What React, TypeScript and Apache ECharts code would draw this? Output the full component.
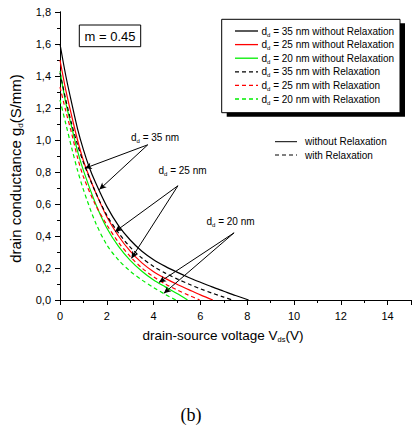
import React, { useEffect, useRef } from 'react';
import * as echarts from 'echarts';

// drain-source voltage (V) and drain conductance (S/mm)
const vBlackSolid = [0, 0.25, 0.5, 0.75, 1.0, 1.25, 1.5, 2.0, 2.5, 3.0, 3.5, 4.0, 4.5, 5.0, 5.5, 6.0, 6.5, 7.0, 7.5, 8.06];
const gBlackSolid = [1.6, 1.4, 1.23, 1.07, 0.94, 0.83, 0.74, 0.585, 0.465, 0.375, 0.305, 0.252, 0.21, 0.174, 0.141, 0.111, 0.082, 0.055, 0.028, 0];

const vRedSolid = [0, 0.25, 0.5, 0.75, 1.0, 1.25, 1.5, 2.0, 2.5, 3.0, 3.5, 4.0, 4.5, 5.0, 5.5, 6.0, 6.53];
const gRedSolid = [1.5, 1.31, 1.15, 1.0, 0.87, 0.77, 0.68, 0.52, 0.4, 0.305, 0.232, 0.177, 0.135, 0.098, 0.065, 0.032, 0];

const vGreenSolid = [0, 0.25, 0.5, 0.75, 1.0, 1.5, 2.0, 2.5, 3.0, 3.5, 4.0, 4.5, 5.0, 5.45];
const gGreenSolid = [1.43, 1.23, 1.08, 0.93, 0.81, 0.61, 0.45, 0.335, 0.248, 0.18, 0.125, 0.082, 0.04, 0];

const vBlackDashed = [0, 0.25, 0.5, 0.75, 1.0, 1.5, 2.0, 2.5, 3.0, 3.5, 4.0, 4.5, 5.0, 5.5, 6.0, 6.5, 7.0, 7.37];
const gBlackDashed = [1.42, 1.25, 1.1, 0.97, 0.86, 0.68, 0.53, 0.42, 0.33, 0.262, 0.21, 0.168, 0.132, 0.1, 0.07, 0.043, 0.018, 0];

const vRedDashed = [0, 0.25, 0.5, 0.75, 1.0, 1.5, 2.0, 2.5, 3.0, 3.5, 4.0, 4.5, 5.0, 5.5, 5.97];
const gRedDashed = [1.33, 1.18, 1.04, 0.89, 0.77, 0.6, 0.47, 0.36, 0.272, 0.2, 0.145, 0.1, 0.063, 0.03, 0];

const vGreenDashed = [0, 0.25, 0.5, 0.75, 1.0, 1.5, 2.0, 2.5, 3.0, 3.5, 4.0, 4.5, 4.95];
const gGreenDashed = [1.25, 1.1, 0.95, 0.81, 0.69, 0.49, 0.345, 0.25, 0.18, 0.125, 0.078, 0.035, 0];

const seriesNames = [
  '35 nm without Relaxation',
  '25 nm without Relaxation',
  '20 nm without Relaxation',
  '35 nm with Relaxation',
  '25 nm with Relaxation',
  '20 nm with Relaxation',
];
const seriesColors = ['#000000', '#ff0000', '#00ee00', '#000000', '#ff0000', '#00ee00'];
const seriesDashed = [false, false, false, true, true, true];
const seriesV = [vBlackSolid, vRedSolid, vGreenSolid, vBlackDashed, vRedDashed, vGreenDashed];
const seriesG = [gBlackSolid, gRedSolid, gGreenSolid, gBlackDashed, gRedDashed, gGreenDashed];

const xTicks = [0, 2, 4, 6, 8, 10, 12, 14];
const yTicks = [0, 0.2, 0.4, 0.6, 0.8, 1.0, 1.2, 1.4, 1.6, 1.8];

// annotation arrows in data coordinates: [fromV, fromG, toV, toG]
const arrows = [
  [3.75, 0.97, 1.06, 0.823],
  [3.75, 0.97, 1.68, 0.69],
  [5.04, 0.714, 2.35, 0.427],
  [5.04, 0.714, 3.05, 0.26],
  [7.44, 0.42, 4.23, 0.11],
  [7.44, 0.42, 4.44, 0.042],
];

const FONT = '"Liberation Sans", Arial, sans-serif';

export default function App() {
  const ref = useRef<HTMLDivElement>(null);
  useEffect(() => {
    const chart = echarts.init(ref.current!, null, { renderer: 'svg' });
    const sub = { fontSize: 6, fontFamily: FONT, color: '#000', padding: [7, 0, 0, 0] };
    const series: any[] = seriesNames.map((name, i) => ({
      name,
      type: 'line',
      xAxisIndex: 0,
      yAxisIndex: 0,
      data: seriesV[i].map((v, k) => [v, seriesG[i][k]]),
      symbol: 'none',
      showSymbol: false,
      smooth: 0.3,
      lineStyle: { color: seriesColors[i], width: 1.2, type: seriesDashed[i] ? [4, 3] : 'solid' },
      itemStyle: { color: seriesColors[i] },
      z: 3,
    }));
    series[0].markLine = {
      silent: true,
      symbol: ['none', 'arrow'],
      symbolSize: [5, 7],
      label: { show: false },
      lineStyle: { color: '#000', width: 1, type: 'solid' },
      data: arrows.map(([a, b, c, d]) => [{ coord: [a, b] }, { coord: [c, d] }]),
    };
    const annotation = (x: number, y: number, txt: string) => ({
      type: 'text',
      x,
      y,
      z: 20,
      style: {
        text: `{t|d}{s|d}{t| = ${txt}}`,
        textVerticalAlign: 'middle',
        verticalAlign: 'middle',
        rich: { t: { fontSize: 10, fontFamily: FONT, color: '#000' }, s: sub },
      },
    });
    const legendRows: any[] = [];
    seriesNames.forEach((n, i) => {
      const y = 31 + i * 13.6;
      legendRows.push({
        type: 'line', z: 12,
        shape: { x1: 235, y1: y, x2: 258, y2: y },
        style: { stroke: seriesColors[i], lineWidth: 1.3, lineDash: seriesDashed[i] ? [4, 3] : null },
      });
      legendRows.push(annotation(261.5, y, n));
    });
    const option: any = {
      animation: false,
      grid: { left: 54, right: 1, top: 12, bottom: 135 },
      xAxis: [
        {
          type: 'value',
          min: 0,
          max: 15,
          interval: 2,
          position: 'bottom',
          axisLine: { lineStyle: { color: '#000', width: 1 } },
          axisTick: { length: 5, lineStyle: { color: '#000' } },
          minorTick: { show: true, splitNumber: 2, length: 3, lineStyle: { color: '#000' } },
          splitLine: { show: false },
          axisLabel: {
            margin: 10,
            fontSize: 11,
            fontFamily: FONT,
            color: '#000',
            formatter: (v: number) => (xTicks.includes(v) ? String(v) : ''),
          },
          name: '{t|drain-source voltage V}{s|ds}{t|(V)}',
          nameLocation: 'middle',
          nameGap: 27,
          nameTextStyle: {
            padding: [0, 25, 0, 0],
            rich: { t: { fontSize: 13.5, fontFamily: FONT, color: '#000' }, s: { ...sub, fontSize: 7.5, padding: [8, 0, 0, 0] } },
          },
        },
        {
          type: 'value',
          min: 0,
          max: 15,
          interval: 2,
          position: 'top',
          axisLine: { lineStyle: { color: '#000', width: 1 } },
          axisTick: { inside: true, length: 4, lineStyle: { color: '#000' } },
          axisLabel: { show: false },
          splitLine: { show: false },
        },
      ],
      yAxis: [
        {
          type: 'value',
          min: 0,
          max: 1.8,
          interval: 0.2,
          position: 'left',
          axisLine: { show: true, lineStyle: { color: '#000', width: 1 } },
          axisTick: { show: true, length: 5, lineStyle: { color: '#000' } },
          minorTick: { show: true, splitNumber: 2, length: 3, lineStyle: { color: '#000' } },
          splitLine: { show: false },
          axisLabel: {
            margin: 9,
            fontSize: 11,
            fontFamily: FONT,
            color: '#000',
            formatter: (v: number) => {
              const t = yTicks.find((y) => Math.abs(y - v) < 1e-6);
              return t === undefined ? '' : t.toFixed(1).replace('.', ',');
            },
          },
          name: '{t|drain conductance g}{s|d}{t|(S/mm)}',
          nameLocation: 'middle',
          nameGap: 36,
          nameTextStyle: {
            padding: [0, 25, 0, 0],
            rich: { t: { fontSize: 15, fontFamily: FONT, color: '#000' }, s: { ...sub, fontSize: 8, padding: [9, 0, 0, 0] } },
          },
        },
        {
          type: 'value',
          min: 0,
          max: 1.8,
          interval: 0.2,
          position: 'right',
          axisLine: { show: true, lineStyle: { color: '#000', width: 1 } },
          axisTick: { show: true, inside: true, length: 4, lineStyle: { color: '#000' } },
          axisLabel: { show: false },
          splitLine: { show: false },
        },
      ],
      graphic: [
        { type: 'rect', z: 10, shape: { x: 226.7, y: 23.3, width: 178.3, height: 93.4 }, style: { fill: '#000' } },
        { type: 'rect', z: 11, shape: { x: 221.7, y: 19.3, width: 178.3, height: 93.4 }, style: { fill: '#fff', stroke: '#000', lineWidth: 1 } },
        ...legendRows,
        { type: 'rect', z: 11, shape: { x: 79.3, y: 25, width: 61.4, height: 21.7 }, style: { fill: '#fff', stroke: '#000', lineWidth: 1 } },
        {
          type: 'text', z: 12, x: 110, y: 36,
          style: { text: 'm = 0.45', fontSize: 13, fontFamily: FONT, fill: '#000', textAlign: 'center', textVerticalAlign: 'middle', verticalAlign: 'middle' },
        },
        { type: 'line', z: 12, shape: { x1: 275, y1: 141.7, x2: 297, y2: 141.7 }, style: { stroke: '#000', lineWidth: 1 } },
        {
          type: 'text', z: 12, x: 305, y: 141.7,
          style: { text: 'without Relaxation', fontSize: 10, fontFamily: FONT, fill: '#000', textVerticalAlign: 'middle', verticalAlign: 'middle' },
        },
        { type: 'line', z: 12, shape: { x1: 275, y1: 155, x2: 297, y2: 155 }, style: { stroke: '#000', lineWidth: 1, lineDash: [4, 3] } },
        {
          type: 'text', z: 12, x: 305, y: 155,
          style: { text: 'with Relaxation', fontSize: 10, fontFamily: FONT, fill: '#000', textVerticalAlign: 'middle', verticalAlign: 'middle' },
        },
        annotation(131, 137, '35 nm'),
        annotation(158.5, 170, '25 nm'),
        annotation(206.5, 221.5, '20 nm'),
        {
          type: 'text', z: 12, x: 191, y: 415,
          style: { text: '(b)', fontSize: 18, fontFamily: '"Liberation Serif", "Times New Roman", serif', fill: '#000', textAlign: 'center', textVerticalAlign: 'middle', verticalAlign: 'middle' },
        },
      ],
      series,
    };
    chart.setOption(option);
    return () => chart.dispose();
  }, []);
  return <div ref={ref} style={{ position: 'absolute', left: 0, top: 0, width: 414, height: 435 }} />;
}
